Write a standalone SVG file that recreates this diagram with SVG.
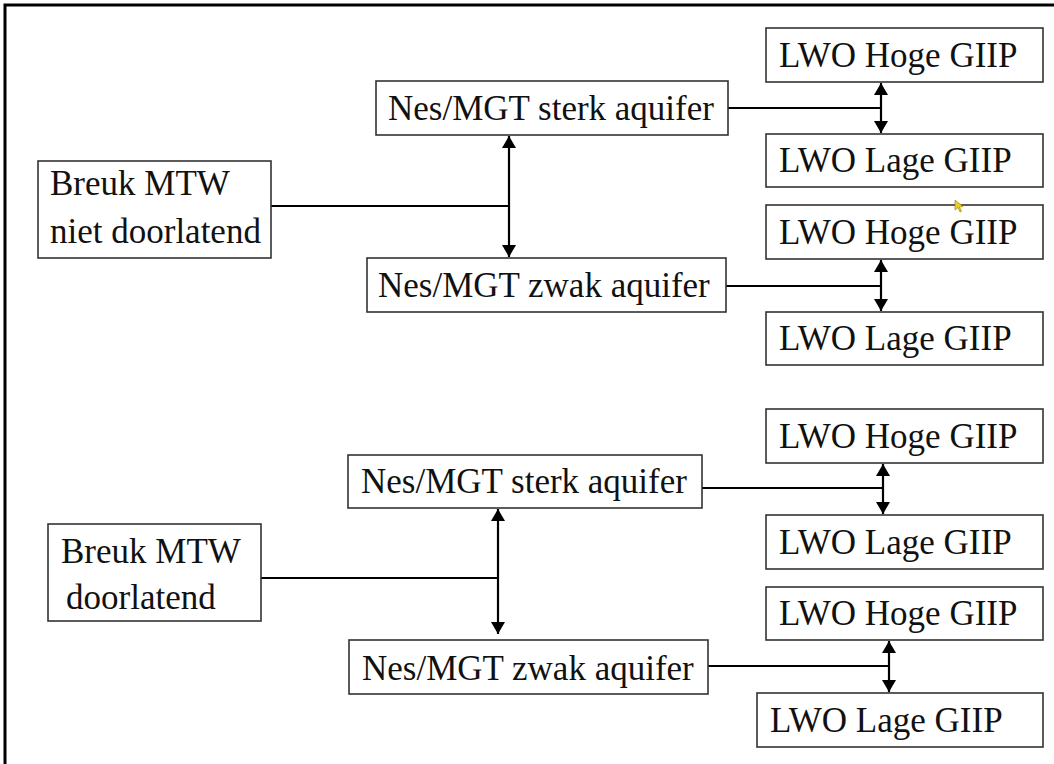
<svg xmlns="http://www.w3.org/2000/svg" width="1054" height="764" viewBox="0 0 1054 764">
<style>
.box{fill:#fff;stroke:#333;stroke-width:1.6}
.t{font-family:"Liberation Serif","Times New Roman",serif;font-size:35px;fill:#111}
.c{fill:none;stroke:#000;stroke-width:2.2}
</style>
<defs>
<marker id="ah" viewBox="0 0 12 14" refX="12" refY="7" markerWidth="12" markerHeight="14" markerUnits="userSpaceOnUse" orient="auto-start-reverse">
<path d="M0,0 L12,7 L0,14 Z" fill="#000"/>
</marker>
</defs>
<rect x="0" y="0" width="1054" height="764" fill="#fff"/>
<path d="M5,764 V5 H1054" fill="none" stroke="#000" stroke-width="3"/>

<g id="connectors">
<path class="c" d="M271,206 H509"/>
<path class="c" d="M509,136 V257" marker-start="url(#ah)" marker-end="url(#ah)"/>
<path class="c" d="M728,108 H881"/>
<path class="c" d="M881,83 V133" marker-start="url(#ah)" marker-end="url(#ah)"/>
<path class="c" d="M726,286 H881"/>
<path class="c" d="M881,260 V311" marker-start="url(#ah)" marker-end="url(#ah)"/>
<path class="c" d="M261,578 H498"/>
<path class="c" d="M498,509 V634" marker-start="url(#ah)" marker-end="url(#ah)"/>
<path class="c" d="M702,488 H883"/>
<path class="c" d="M883,464 V514" marker-start="url(#ah)" marker-end="url(#ah)"/>
<path class="c" d="M708,666 H889"/>
<path class="c" d="M889,641 V692" marker-start="url(#ah)" marker-end="url(#ah)"/>
</g>

<g id="breuk1"><rect class="box" x="38" y="161" width="233" height="97"/>
<text class="t" x="50" y="195">Breuk MTW</text><text class="t" x="50" y="243">niet doorlatend</text></g>
<g id="nes-sterk1"><rect class="box" x="376" y="81" width="352" height="54"/><text class="t" x="388" y="120">Nes/MGT sterk aquifer</text></g>
<g id="nes-zwak1"><rect class="box" x="367" y="258" width="359" height="54"/><text class="t" x="378" y="297">Nes/MGT zwak aquifer</text></g>
<g id="hoge1"><rect class="box" x="766" y="28" width="277" height="54"/><text class="t" x="779" y="67">LWO Hoge GIIP</text></g>
<g id="lage1"><rect class="box" x="766" y="134" width="277" height="53"/><text class="t" x="779" y="172">LWO Lage GIIP</text></g>
<g id="hoge2"><rect class="box" x="766" y="205" width="277" height="54"/><text class="t" x="779" y="244">LWO Hoge GIIP</text></g>
<g id="lage2"><rect class="box" x="766" y="312" width="277" height="53"/><text class="t" x="779" y="350">LWO Lage GIIP</text></g>

<g id="breuk2"><rect class="box" x="48" y="524" width="213" height="97"/>
<text class="t" x="61" y="563">Breuk MTW</text><text class="t" x="66" y="609">doorlatend</text></g>
<g id="nes-sterk2"><rect class="box" x="348" y="455" width="354" height="53"/><text class="t" x="361" y="493">Nes/MGT sterk aquifer</text></g>
<g id="nes-zwak2"><rect class="box" x="349" y="640" width="359" height="54"/><text class="t" x="362" y="680">Nes/MGT zwak aquifer</text></g>
<g id="hoge3"><rect class="box" x="766" y="409" width="277" height="54"/><text class="t" x="779" y="448">LWO Hoge GIIP</text></g>
<g id="lage3"><rect class="box" x="766" y="515" width="277" height="54"/><text class="t" x="779" y="554">LWO Lage GIIP</text></g>
<g id="hoge4"><rect class="box" x="766" y="587" width="277" height="53"/><text class="t" x="779" y="625">LWO Hoge GIIP</text></g>
<g id="lage4"><rect class="box" x="757" y="693" width="286" height="54"/><text class="t" x="770" y="732">LWO Lage GIIP</text></g>

<path d="M955,200 L955,210 L958,207.5 L960,212 L961.5,211.3 L959.5,207 L963,206.5 Z" fill="#e8d020" stroke="#8a7a10" stroke-width="0.6"/>
</svg>
